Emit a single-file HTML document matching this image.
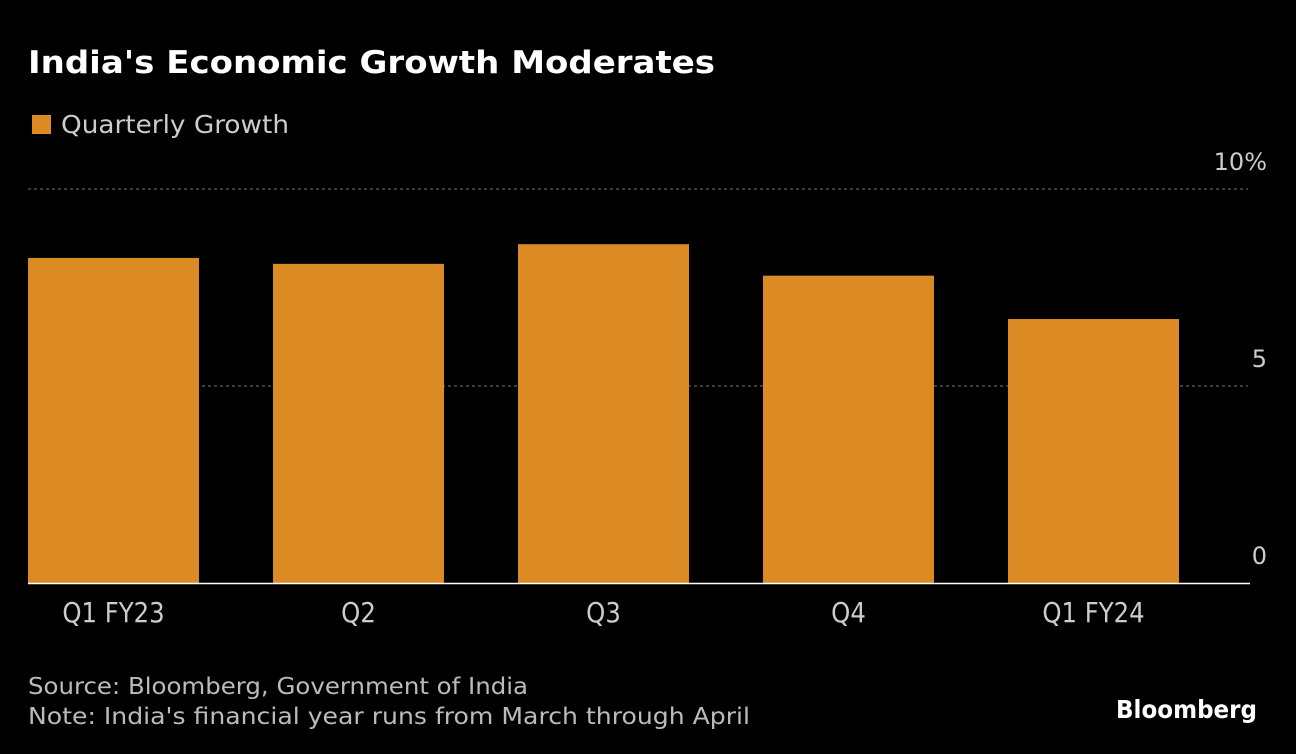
<!DOCTYPE html>
<html><head><meta charset="utf-8"><style>
body{margin:0;background:#000;width:1296px;height:754px;overflow:hidden;font-family:"DejaVu Sans","Liberation Sans",sans-serif;color:#ddd}
svg{position:absolute;left:0;top:0;font-family:"DejaVu Sans","Liberation Sans",sans-serif}
</style></head><body>
<svg width="1296" height="754">
<text x="28" y="73" font-size="31" font-weight="bold" fill="#fff" textLength="687" lengthAdjust="spacingAndGlyphs">India's Economic Growth Moderates</text>
<rect x="32" y="115" width="19" height="19" fill="#db8a24"/>
<text x="61" y="133" font-size="25" fill="#ccc" textLength="228" lengthAdjust="spacingAndGlyphs">Quarterly Growth</text>
<g id="grid"></g><g id="bars"></g><g id="xl"></g>
<line x1="28" y1="583.5" x2="1250" y2="583.5" stroke="#fff" stroke-width="1.5"/>
<text x="28" y="694" font-size="23" fill="#bbb" textLength="500" lengthAdjust="spacingAndGlyphs">Source: Bloomberg, Government of India</text>
<text x="28" y="724" font-size="23" fill="#bbb" textLength="722" lengthAdjust="spacingAndGlyphs">Note: India's financial year runs from March through April</text>
<text x="1116" y="718" font-size="25" font-weight="bold" fill="#fff" textLength="141" lengthAdjust="spacingAndGlyphs">Bloomberg</text>
</svg>
<script>
const categories=["Q1 FY23","Q2","Q3","Q4","Q1 FY24"];
const values=[8.25,8.1,8.6,7.8,6.7];
const ticks=[0,5,10];
const tickLabels=["0","5","10%"];
const NS="http://www.w3.org/2000/svg";
const y=v=>583-v*39.4;
const x=i=>28+i*245;
const g=document.getElementById("grid"),b=document.getElementById("bars"),xl=document.getElementById("xl");
ticks.forEach((t,i)=>{
 if(t>0){const l=document.createElementNS(NS,"line");
 l.setAttribute("x1",28);l.setAttribute("x2",1248);l.setAttribute("y1",y(t));l.setAttribute("y2",y(t));
 l.setAttribute("stroke","#777");l.setAttribute("stroke-dasharray","3,3");
 
 
 g.appendChild(l);}
 const tx=document.createElementNS(NS,"text");
 tx.setAttribute("x",1267);tx.setAttribute("y",y(t)-19);tx.setAttribute("text-anchor","end");
 tx.setAttribute("font-size","24");tx.setAttribute("fill","#ccc");tx.textContent=tickLabels[i];
 
 
 g.appendChild(tx);
});
categories.forEach((c,i)=>{
 const r=document.createElementNS(NS,"rect");
 r.setAttribute("x",x(i));r.setAttribute("width",171);r.setAttribute("y",y(values[i]));r.setAttribute("height",583-y(values[i]));
 r.setAttribute("fill","#db8a24");
 
 
 b.appendChild(r);
 const t=document.createElementNS(NS,"text");
 t.setAttribute("x",x(i)+85.5);t.setAttribute("y",622);t.setAttribute("text-anchor","middle");
 t.setAttribute("font-size","28");t.setAttribute("fill","#ccc");t.textContent=c;
 
 
 xl.appendChild(t);
 const w=t.getComputedTextLength();
 t.setAttribute("textLength",w*0.87);
 t.setAttribute("lengthAdjust","spacingAndGlyphs");
});
</script>
</body></html>
